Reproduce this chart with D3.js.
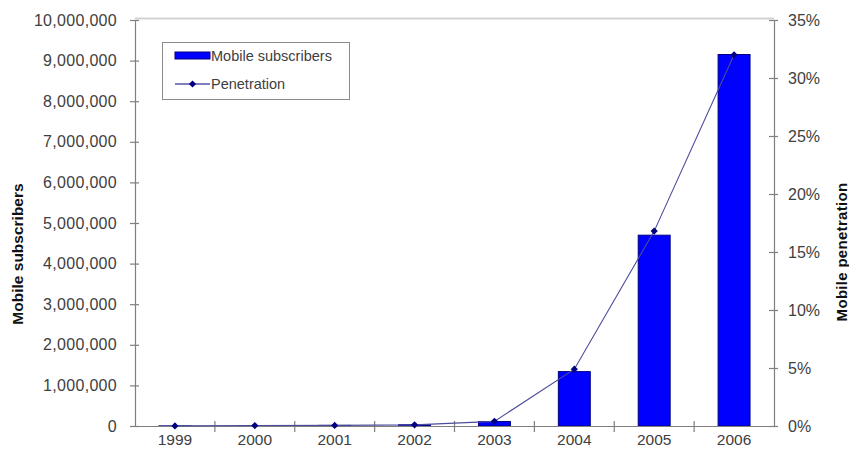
<!DOCTYPE html>
<html>
<head>
<meta charset="utf-8">
<script src="https://cdn.jsdelivr.net/npm/d3@7"></script>
<style>
  html, body { margin: 0; padding: 0; background: #fff; }
  svg { display: block; font-family: "Liberation Sans", Arial, sans-serif; }
</style>
</head>
<body>
<svg id="chart" width="849" height="459"></svg>
<script>
// Mobile subscribers and penetration, 1999-2006
const years = ["1999", "2000", "2001", "2002", "2003", "2004", "2005", "2006"];
const subscribers = [3000, 12000, 15000, 30000, 110000, 1340000, 4700000, 9150000];
const penetration = [0.01, 0.04, 0.05, 0.1, 0.4, 4.9, 16.8, 32.0];
const leftTicks = [0, 1000000, 2000000, 3000000, 4000000, 5000000, 6000000, 7000000, 8000000, 9000000, 10000000];
const rightTicks = [0, 5, 10, 15, 20, 25, 30, 35];

const svg = d3.select("#chart");
const plotLeft = 135, plotRight = 774, plotTop = 20, plotBottom = 426;

const xb = d3.scaleBand().domain(years).range([plotLeft, plotRight]);
const y = d3.scaleLinear().domain([0, 10000000]).range([plotBottom, plotTop]);
const y2 = d3.scaleLinear().domain([0, 35]).range([plotBottom, plotTop]);

const axisColor = "#7f7f7f";
const labelColor = "#404040";

// light top border of the plot area
svg.append("line")
  .attr("x1", plotLeft).attr("x2", plotRight)
  .attr("y1", plotTop - 1.5).attr("y2", plotTop - 1.5)
  .attr("stroke", "#d2d2d2").attr("stroke-width", 2);

// bars
svg.append("g").selectAll("rect")
  .data(years)
  .join("rect")
  .attr("x", (d) => xb(d) + xb.bandwidth() * 0.3)
  .attr("width", xb.bandwidth() * 0.4)
  .attr("y", (d, i) => y(subscribers[i]))
  .attr("height", (d, i) => plotBottom - y(subscribers[i]))
  .attr("fill", "#0000ff")
  .attr("stroke", "#000080")
  .attr("stroke-width", 1);

// left axis
const gLeft = svg.append("g").attr("transform", `translate(${plotLeft},0)`)
  .call(d3.axisLeft(y).tickValues(leftTicks).tickSize(0).tickPadding(18)
    .tickFormat((d) => d3.format(",")(d)));
gLeft.select(".domain").attr("stroke", axisColor).attr("stroke-width", 1.2);
gLeft.selectAll(".tick line").remove();
gLeft.selectAll(".tick").append("line")
  .attr("x1", -5).attr("x2", 4).attr("stroke", axisColor).attr("stroke-width", 1.2);
gLeft.selectAll("text").attr("font-size", 16).attr("fill", labelColor)
  .attr("font-family", "Liberation Sans, Arial, sans-serif").attr("letter-spacing", 0.3);

// right axis
const gRight = svg.append("g").attr("transform", `translate(${plotRight},0)`)
  .call(d3.axisRight(y2).tickValues(rightTicks).tickSize(0).tickPadding(14)
    .tickFormat((d) => d + "%"));
gRight.select(".domain").attr("stroke", axisColor).attr("stroke-width", 1.2);
gRight.selectAll(".tick line").remove();
gRight.selectAll(".tick").append("line")
  .attr("x1", -5).attr("x2", 4).attr("stroke", axisColor).attr("stroke-width", 1.2);
gRight.selectAll("text").attr("font-size", 16).attr("fill", labelColor)
  .attr("font-family", "Liberation Sans, Arial, sans-serif");

// bottom axis: labels centred, ticks between categories
const gBottom = svg.append("g").attr("transform", `translate(0,${plotBottom})`)
  .call(d3.axisBottom(xb).tickSize(0).tickPadding(8));
gBottom.select(".domain").attr("stroke", axisColor).attr("stroke-width", 1.2);
gBottom.selectAll("text").attr("font-size", 15.5).attr("fill", labelColor)
  .attr("font-family", "Liberation Sans, Arial, sans-serif");
gBottom.selectAll(".sep")
  .data(years.slice(1))
  .join("line")
  .attr("class", "sep")
  .attr("x1", (d) => xb(d)).attr("x2", (d) => xb(d))
  .attr("y1", -5).attr("y2", 6)
  .attr("stroke", axisColor).attr("stroke-width", 1.2);

// penetration line
const line = d3.line()
  .x((d, i) => xb(years[i]) + xb.bandwidth() / 2)
  .y((d) => y2(d));
svg.append("path")
  .datum(penetration)
  .attr("d", line)
  .attr("fill", "none")
  .attr("stroke", "#4b4b9a")
  .attr("stroke-width", 1.1);

// square markers turned 45 degrees
const marker = d3.symbol().type(d3.symbolSquare).size(26);
svg.append("g").selectAll("path")
  .data(penetration)
  .join("path")
  .attr("transform", (d, i) => `translate(${xb(years[i]) + xb.bandwidth() / 2},${y2(d)}) rotate(45)`)
  .attr("d", marker)
  .attr("fill", "#000080");

// axis titles
svg.append("text")
  .attr("transform", "translate(23,254) rotate(-90)")
  .attr("text-anchor", "middle")
  .attr("font-size", 15.5).attr("font-weight", "bold").attr("fill", "#111")
  .text("Mobile subscribers");
svg.append("text")
  .attr("transform", "translate(847,252) rotate(-90)")
  .attr("text-anchor", "middle")
  .attr("font-size", 15).attr("font-weight", "bold").attr("fill", "#111")
  .attr("letter-spacing", 0.3)
  .text("Mobile penetration");

// legend
const lg = svg.append("g");
lg.append("rect")
  .attr("x", 162.5).attr("y", 42.5).attr("width", 187).attr("height", 57)
  .attr("fill", "#fff").attr("stroke", "#8a8a8a").attr("stroke-width", 1);
lg.append("rect")
  .attr("x", 175).attr("y", 52).attr("width", 35).attr("height", 7)
  .attr("fill", "#0000ff").attr("stroke", "#000080").attr("stroke-width", 1);
lg.append("text")
  .attr("x", 211).attr("y", 61)
  .attr("font-size", 14.5).attr("fill", labelColor)
  .text("Mobile subscribers");
lg.append("line")
  .attr("x1", 175).attr("x2", 210).attr("y1", 84).attr("y2", 84)
  .attr("stroke", "#000080").attr("stroke-width", 1.2);
lg.append("path")
  .attr("transform", "translate(192.5,84) rotate(45)")
  .attr("d", marker)
  .attr("fill", "#000080");
lg.append("text")
  .attr("x", 211).attr("y", 89)
  .attr("font-size", 14.5).attr("fill", labelColor)
  .text("Penetration");
</script>
</body>
</html>
